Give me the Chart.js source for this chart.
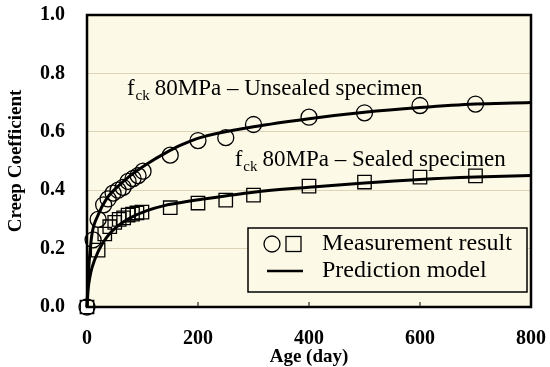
<!DOCTYPE html>
<html>
<head>
<meta charset="utf-8">
<script src="https://cdn.jsdelivr.net/npm/chart.js@4.4.1/dist/chart.umd.min.js"></script>
<style>
  html, body { margin: 0; padding: 0; background: #fff; }
  #wrap { width: 550px; height: 367px; }
</style>
</head>
<body>
<div id="wrap"><canvas id="creep"></canvas></div>
<script>
// measured creep coefficients
const unsealedDays = [0, 11, 20, 30, 38, 47, 56, 65, 74, 83, 92, 101, 150, 200, 250, 300, 400, 500, 600, 700];
const unsealedMeasured = [0, 0.23, 0.30, 0.35, 0.37, 0.39, 0.40, 0.41, 0.43, 0.44, 0.45, 0.465, 0.52, 0.57, 0.58, 0.625, 0.65, 0.665, 0.69, 0.695];

const sealedDays = [0, 20, 32, 41, 50, 58, 66, 74, 82, 90, 99, 150, 200, 250, 300, 400, 500, 600, 700];
const sealedMeasured = [0, 0.195, 0.25, 0.275, 0.29, 0.30, 0.305, 0.315, 0.318, 0.322, 0.325, 0.34, 0.356, 0.366, 0.383, 0.414, 0.428, 0.445, 0.449];

// prediction model curves
const modelDays = [0, 2, 5, 9, 20, 36, 54, 78, 108, 141, 170, 204, 300, 400, 500, 600, 700, 800, 820];
const unsealedModel = [0, 0.10, 0.18, 0.25, 0.315, 0.373, 0.41, 0.45, 0.49, 0.527, 0.555, 0.58, 0.617, 0.645, 0.667, 0.683, 0.695, 0.70, 0.702];
const sealedModel = [0, 0.06, 0.10, 0.135, 0.19, 0.24, 0.275, 0.305, 0.33, 0.348, 0.358, 0.368, 0.393, 0.41, 0.425, 0.437, 0.445, 0.45, 0.451];

const xTicks = [0, 200, 400, 600, 800];
const yTicks = [0, 0.2, 0.4, 0.6, 0.8, 1.0];

const serif = '"Liberation Serif", "Times New Roman", serif';
const plotBg = '#fcf9e6';

const toPoints = (xs, ys) => xs.map((x, i) => ({ x, y: ys[i] }));

const framePlugin = {
  id: 'frame',
  beforeDraw(chart) {
    const { ctx, chartArea: a } = chart;
    ctx.save();
    ctx.fillStyle = plotBg;
    ctx.fillRect(a.left, a.top, a.right - a.left, a.bottom - a.top);
    ctx.restore();
  },
  beforeDatasetsDraw(chart) {
    const { ctx, chartArea: a, scales } = chart;
    ctx.save();
    ctx.strokeStyle = '#000';
    ctx.lineWidth = 1;
    // small inward ticks
    xTicks.slice(1, -1).forEach((v) => {
      const px = scales.x.getPixelForValue(v);
      ctx.beginPath();
      ctx.moveTo(px, a.bottom);
      ctx.lineTo(px, a.bottom - 5);
      ctx.stroke();
    });
    ctx.lineWidth = 2.5;
    ctx.strokeRect(a.left, a.top, a.right - a.left, a.bottom - a.top);
    ctx.restore();
  },
  afterDatasetsDraw(chart) {
    const { ctx, chartArea: a, scales } = chart;
    ctx.save();
    ctx.fillStyle = '#000';
    ctx.textBaseline = 'alphabetic';

    const label = (x, y, rest) => {
      ctx.font = '23px ' + serif;
      ctx.fillText('f', x, y);
      const fw = ctx.measureText('f').width;
      ctx.font = '15px ' + serif;
      ctx.fillText('ck', x + fw + 1, y + 5);
      const cw = ctx.measureText('ck').width;
      ctx.font = '23px ' + serif;
      ctx.fillText(rest, x + fw + cw + 6, y);
    };
    label(scales.x.getPixelForValue(72), scales.y.getPixelForValue(0.727), '80MPa \u2013 Unsealed specimen');
    label(scales.x.getPixelForValue(266), scales.y.getPixelForValue(0.482), '80MPa \u2013 Sealed specimen');

    // legend box
    const bx = a.left + 161;
    const by = a.top + 213;
    const bw = 279;
    const bh = 64;
    ctx.fillStyle = plotBg;
    ctx.fillRect(bx, by, bw, bh);
    ctx.strokeStyle = '#000';
    ctx.lineWidth = 1.5;
    ctx.strokeRect(bx, by, bw, bh);

    const r1 = by + 16;
    const r2 = by + 43;
    ctx.lineWidth = 1.3;
    ctx.beginPath();
    ctx.arc(bx + 24, r1, 8, 0, Math.PI * 2);
    ctx.stroke();
    ctx.strokeRect(bx + 38, r1 - 7.5, 15, 15);
    ctx.lineWidth = 2.5;
    ctx.beginPath();
    ctx.moveTo(bx + 19, r2);
    ctx.lineTo(bx + 55, r2);
    ctx.stroke();

    ctx.fillStyle = '#000';
    ctx.font = '24px ' + serif;
    ctx.textBaseline = 'middle';
    ctx.fillText('Measurement result', bx + 74, r1);
    ctx.fillText('Prediction model', bx + 74, r2);
    ctx.restore();
  },
};

new Chart(document.getElementById('creep'), {
  type: 'scatter',
  data: {
    datasets: [
      {
        label: 'Unsealed model',
        type: 'line',
        data: toPoints(modelDays, unsealedModel),
        borderColor: '#000',
        borderWidth: 3,
        pointRadius: 0,
        cubicInterpolationMode: 'monotone',
        clip: false,
      },
      {
        label: 'Sealed model',
        type: 'line',
        data: toPoints(modelDays, sealedModel),
        borderColor: '#000',
        borderWidth: 3,
        pointRadius: 0,
        cubicInterpolationMode: 'monotone',
        clip: false,
      },
      {
        label: 'Unsealed measured',
        data: toPoints(unsealedDays, unsealedMeasured),
        pointStyle: 'circle',
        pointRadius: 8,
        borderColor: '#000',
        borderWidth: 1.3,
        backgroundColor: 'rgba(0,0,0,0)',
        clip: false,
      },
      {
        label: 'Sealed measured',
        data: toPoints(sealedDays, sealedMeasured),
        pointStyle: 'rect',
        pointRadius: 9.5,
        borderColor: '#000',
        borderWidth: 1.3,
        backgroundColor: 'rgba(0,0,0,0)',
        clip: false,
      },
    ],
  },
  options: {
    responsive: true,
    maintainAspectRatio: false,
    animation: false,
    events: [],
    layout: { padding: { top: 15, right: 19, left: 0, bottom: 0 } },
    plugins: { legend: { display: false }, tooltip: { enabled: false } },
    scales: {
      x: {
        type: 'linear',
        min: 0,
        max: 800,
        afterFit: (s) => {
          s.height = 60;
          s.paddingLeft = 0;
          s.paddingRight = 0;
        },
        afterBuildTicks: (s) => { s.ticks = xTicks.map((v) => ({ value: v })); },
        grid: { display: false, drawTicks: false },
        border: { display: false },
        ticks: {
          padding: 20,
          color: '#000',
          font: { family: serif, size: 20, weight: 'bold' },
        },
        title: {
          display: true,
          text: 'Age (day)',
          color: '#000',
          font: { family: serif, size: 19, weight: 'bold', lineHeight: 1.0 },
          padding: { top: 0, bottom: 0 },
        },
      },
      y: {
        type: 'linear',
        min: 0,
        max: 1,
        afterFit: (s) => {
          s.width = 87;
          s.paddingTop = 0;
          s.paddingBottom = 0;
        },
        afterBuildTicks: (s) => { s.ticks = yTicks.map((v) => ({ value: v })); },
        grid: { color: '#ddd3b6', lineWidth: 1, drawTicks: false },
        border: { display: false },
        ticks: {
          padding: 22,
          color: '#000',
          font: { family: serif, size: 20, weight: 'bold' },
          callback: (v) => v.toFixed(1),
        },
        title: {
          display: true,
          text: 'Creep Coefficient',
          color: '#000',
          font: { family: serif, size: 19, weight: 'bold' },
          padding: { top: 5, bottom: 0 },
        },
      },
    },
  },
  plugins: [framePlugin],
});
</script>
</body>
</html>
